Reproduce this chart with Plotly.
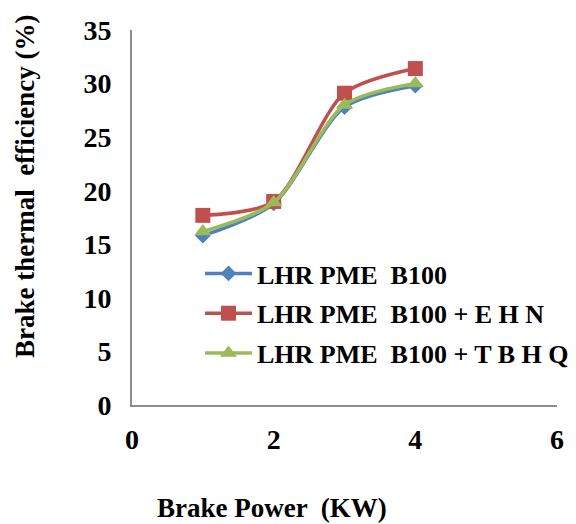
import plotly.graph_objects as go

x_power = [1, 2, 3, 4]
bte_b100 = [15.8, 18.8, 27.8, 29.8]
bte_ehn = [17.7, 19.0, 29.1, 31.4]
bte_tbhq = [16.2, 18.9, 28.0, 30.0]
names = ["LHR PME  B100", "LHR PME  B100 + E H N", "LHR PME  B100 + T B H Q"]
colors = ["#4F81BD", "#C0504D", "#9BBB59"]
symbols = ["diamond", "square", "triangle-up"]
y_ticks = [0, 5, 10, 15, 20, 25, 30, 35]
x_ticks = [0, 2, 4, 6]

fig = go.Figure()
for i, (ys, nm, c, s, sz) in enumerate(zip([bte_b100, bte_ehn, bte_tbhq], names, colors, symbols, [12, 15, 15])):
    fig.add_trace(go.Scatter(
        x=x_power, y=ys, name=nm, mode="lines+markers", legendgroup=f"g{i}",
        line=dict(color=c, width=3.5, shape="spline", smoothing=0.8),
        marker=dict(symbol=s, size=sz, color=c),
    ))

font = "Liberation Serif"
FT = 27
FK = 28
FL = 26
L, R, T, B = 132, 19, 30, 119
pw, ph = 576 - L - R, 524 - T - B
fig.update_layout(
    width=576, height=524,
    margin=dict(l=L, r=R, t=T, b=B, autoexpand=False),
    plot_bgcolor="white", paper_bgcolor="white",
    font=dict(family=font, size=FT, color="black"),
    showlegend=True,
    legend=dict(x=(200 - L) / pw, y=(405 - 250) / ph, xanchor="left", yanchor="top",
                font=dict(family=font, size=FL, color="black", weight="bold"),
                bgcolor="rgba(0,0,0,0)", tracegroupgap=3, itemwidth=47),
    xaxis=dict(range=[0, 6], tickvals=x_ticks, showgrid=False, zeroline=False,
               showline=True, linecolor="#8c8c8c", linewidth=2, ticks="", automargin=False,
               tickfont=dict(family=font, size=FK, weight="bold"), ticklabelstandoff=8),
    yaxis=dict(range=[0, 35], tickvals=y_ticks, showgrid=False, zeroline=False,
               showline=True, linecolor="#8c8c8c", linewidth=2, ticks="", automargin=False,
               tickfont=dict(family=font, size=FK, weight="bold"), ticklabelstandoff=13),
    annotations=[
        dict(text="Brake Power  (KW)", x=(272 - L) / pw, y=-(508 - 405) / ph,
             xref="paper", yref="paper", xanchor="center", yanchor="middle", showarrow=False,
             font=dict(family=font, size=FT, weight="bold")),
        dict(text="Brake thermal  efficiency (%)", x=-(L - 25) / pw, y=(405 - 187) / ph,
             xref="paper", yref="paper", xanchor="center", yanchor="middle",
             showarrow=False, textangle=-90,
             font=dict(family=font, size=FT, weight="bold")),
    ],
)
fig.write_html("out.html")
